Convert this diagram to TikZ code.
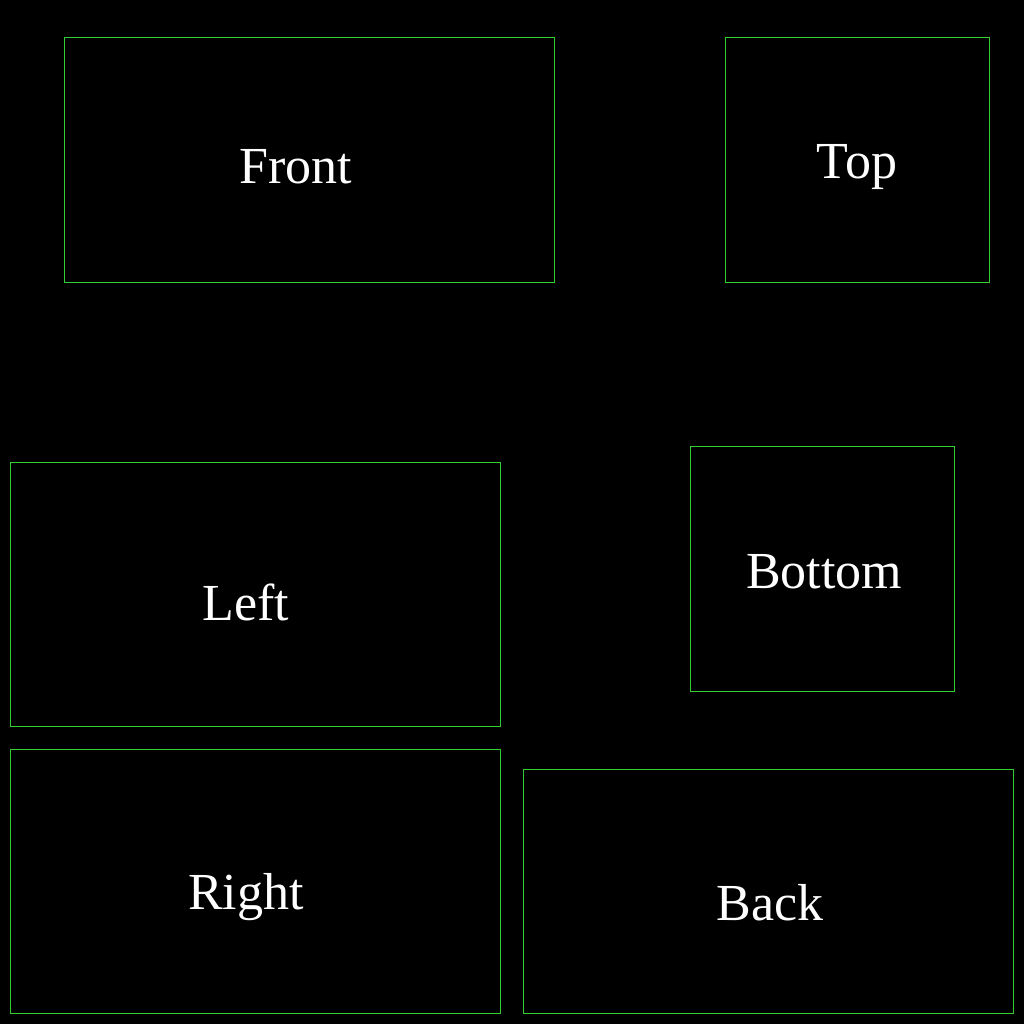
\documentclass[tikz,border=0pt]{standalone}
\usepackage{fontspec}
\setmainfont{Liberation Serif}
\usetikzlibrary{positioning}
\definecolor{lg}{RGB}{50,205,50}
\tikzset{
    face/.style =   {rectangle,
                    fill=none,
                    draw=lg,
                    line width=1.3pt,
                    anchor=north west,
                    inner sep=0pt},
    label/.style =  {text=white,
                    anchor=base,
                    inner sep=0pt,
                    font=\fontsize{52}{58}\selectfont}}

\begin{document}
\begin{tikzpicture}[x=1pt,y=-1pt]
                    \fill[black] (0,0) rectangle (1024,1024);
                    \useasboundingbox (0,0) rectangle (1024,1024);
                    \node[face,minimum width=490pt,minimum height=245pt] (front)  at (64,37)   {};
                    \node[face,minimum width=264pt,minimum height=245pt] (top)    at (725,37)  {};
                    \node[face,minimum width=490pt,minimum height=264pt] (left)   at (10,462)  {};
                    \node[face,minimum width=264pt,minimum height=245pt] (bottom) at (690,446) {};
                    \node[face,minimum width=490pt,minimum height=264pt] (right)  at (10,749)  {};
                    \node[face,minimum width=490pt,minimum height=244pt] (back)   at (523,769) {};
                    \node[label] (frontlabel)  at (296,184) {Front};
                    \node[label] (toplabel)    at (857,179) {Top};
                    \node[label] (leftlabel)   at (246,620) {Left};
                    \node[label] (bottomlabel) at (824,588) {Bottom};
                    \node[label] (rightlabel)  at (246,909) {Right};
                    \node[label] (backlabel)   at (770,920) {Back};
        \end{tikzpicture}
\end{document}
